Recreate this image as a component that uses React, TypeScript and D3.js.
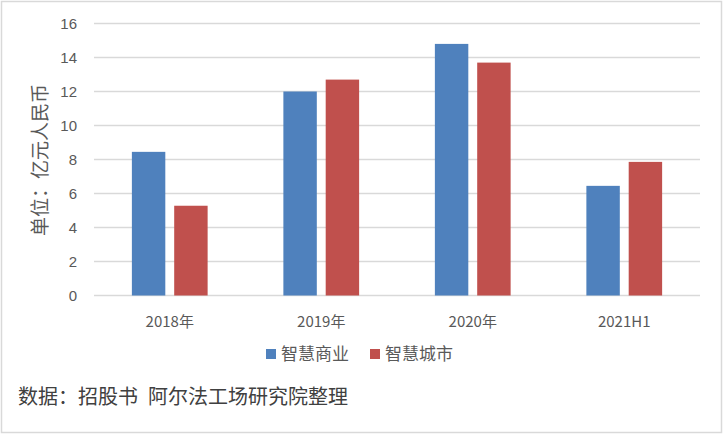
import React from "react";
import * as d3 from "d3";

const categories = ["2018年", "2019年", "2020年", "2021H1"];
const seriesNames = ["智慧商业", "智慧城市"];
const smartBusiness = [8.45, 12.0, 14.8, 6.45];
const smartCity = [5.28, 12.7, 13.7, 7.86];
const yTicks = [0, 2, 4, 6, 8, 10, 12, 14, 16];
const colors = ["#4F81BD", "#C0504D"];
const yTitle = "单位：亿元人民币";
const sourceText = "数据：招股书\u2002阿尔法工场研究院整理";

export default function App() {
  const W = 724, H = 435;
  const left = 94, right = 700, top = 23.5, bottom = 295.5;
  const x0 = d3.scaleBand<string>().domain(categories).range([left, right]).paddingInner(0.5).paddingOuter(0.25);
  const x1 = d3.scaleBand<string>().domain(seriesNames).range([0, x0.bandwidth()]).paddingInner(0.21);
  const y = d3.scaleLinear().domain([0, 16]).range([bottom, top]);
  const seriesData = [smartBusiness, smartCity];
  const tickFont = "'Liberation Sans', Arial, sans-serif";
  const cjk = "'Noto Sans CJK SC', 'Noto Sans', sans-serif";
  return (
    <svg width={W} height={H} style={{ position: "absolute", left: 0, top: 0, background: "#fff" }}>
      <rect x={1.5} y={1.5} width={720} height={431} fill="#fff" stroke="#d9d9d9" strokeWidth={1.5} />
      {yTicks.map((t) => (
        <g key={t}>
          <line x1={left} x2={right} y1={y(t)} y2={y(t)} stroke="#d9d9d9" strokeWidth={1.5} />
          <text x={77} y={y(t)} dy="0.36em" textAnchor="end" fontFamily={tickFont} fontSize={15} fill="#595959">{t}</text>
        </g>
      ))}
      {categories.map((c, i) => (
        <g key={c}>
          {seriesNames.map((s, j) => (
            <rect key={s} x={(x0(c) as number) + (x1(s) as number)} y={y(seriesData[j][i])}
              width={x1.bandwidth()} height={bottom - y(seriesData[j][i])} fill={colors[j]} />
          ))}
          <text x={(x0(c) as number) + x0.bandwidth() / 2} y={327} textAnchor="middle" fontFamily={cjk} fontSize={15} fill="#595959">{c}</text>
        </g>
      ))}
      <text transform={`translate(47,160) rotate(-90)`} textAnchor="middle" fontFamily={cjk} fontSize={19} fill="#595959">{yTitle}</text>
      {seriesNames.map((s, j) => {
        const lx = 266 + j * 104;
        return (
          <g key={s}>
            <rect x={lx} y={349} width={10} height={10} fill={colors[j]} />
            <text x={lx + 15} y={354} dy="0.36em" fontFamily={cjk} fontSize={17} fill="#595959">{s}</text>
          </g>
        );
      })}
      <text x={18} y={397} dy="0.36em" fontFamily={cjk} fontSize={20} fill="#404040">{sourceText}</text>
    </svg>
  );
}
